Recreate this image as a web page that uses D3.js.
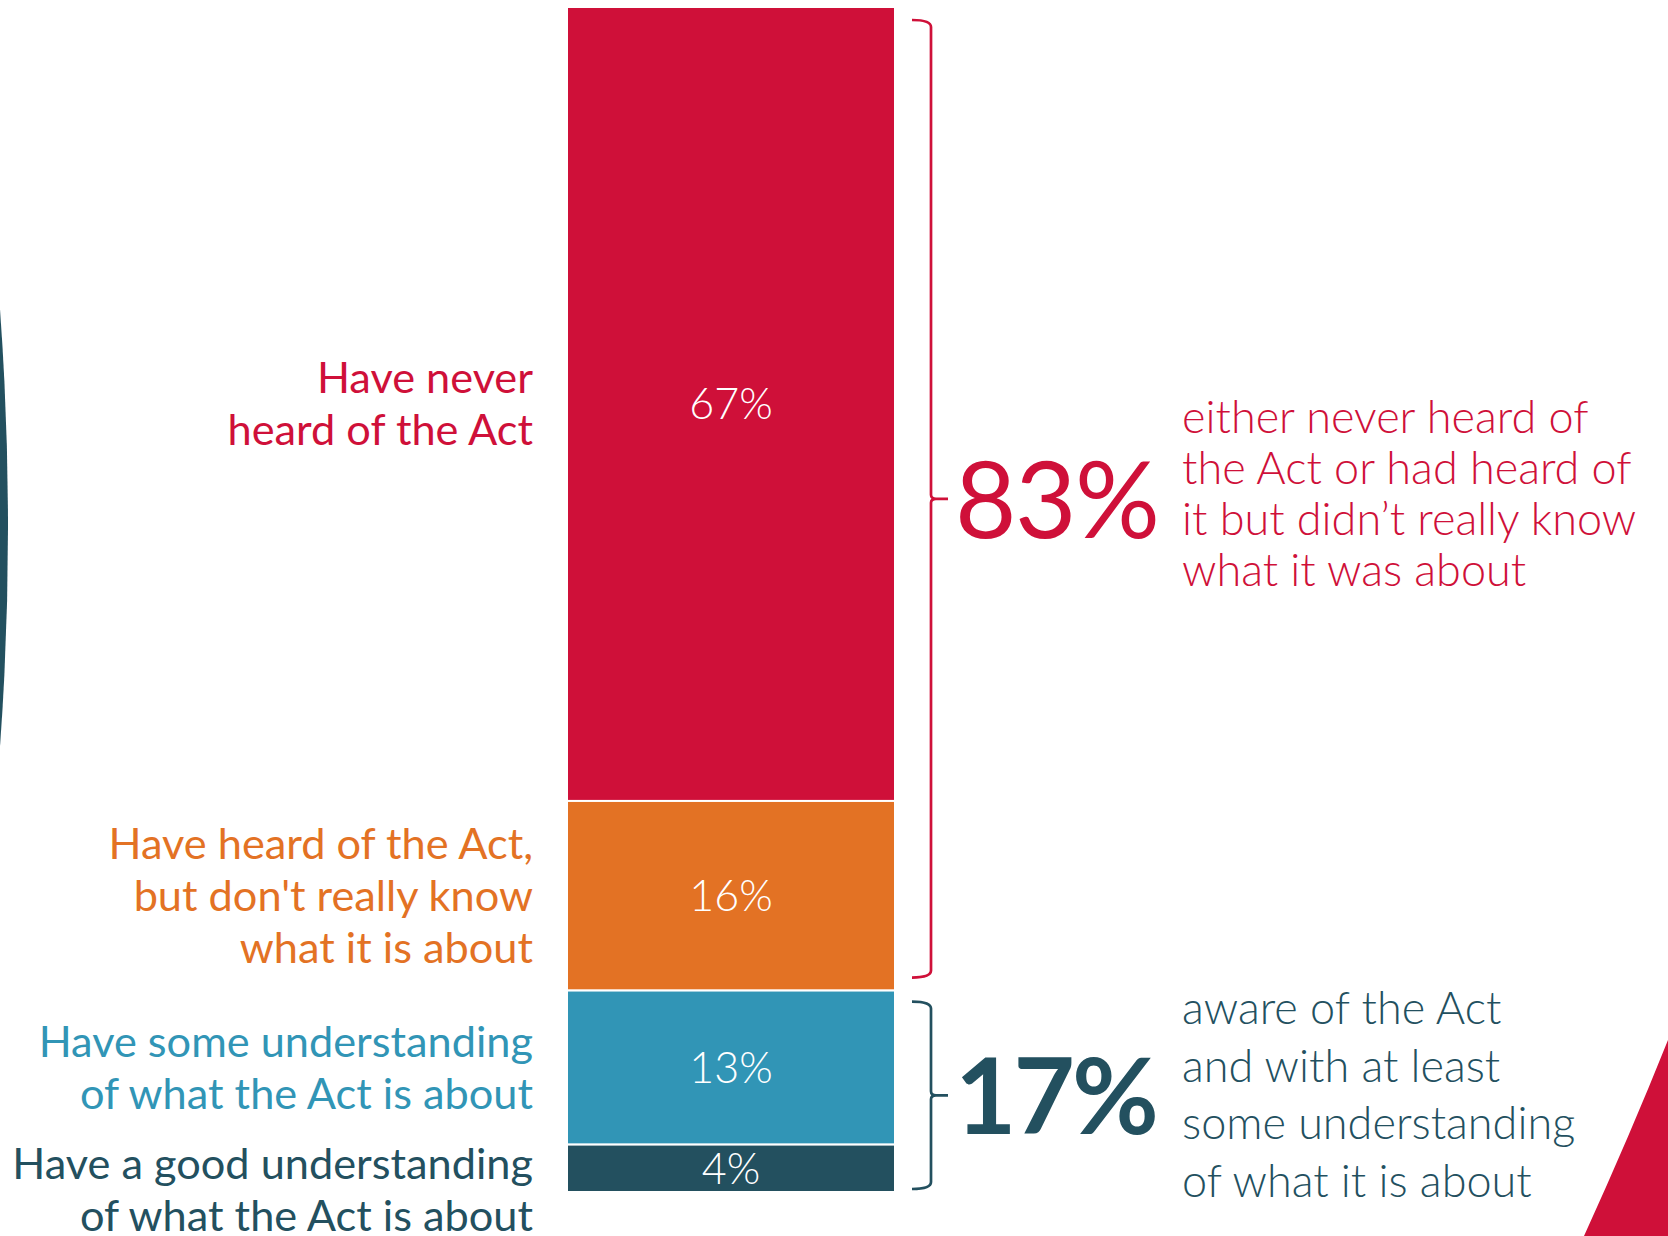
<!DOCTYPE html>
<html>
<head>
<meta charset="utf-8">
<script src="https://cdn.jsdelivr.net/npm/d3@7"></script>
<style>
  html, body { margin: 0; padding: 0; background: #fff; }
  svg { display: block; font-family: Lato, "Open Sans", sans-serif; }
</style>
</head>
<body>
<div id="d3-container"></div>
<script>
/**
 * DATA
 * */
const categories = [
  "Have never heard of the Act",
  "Have heard of the Act, but don't really know what it is about",
  "Have some understanding of what the Act is about",
  "Have a good understanding of what the Act is about"
];
// how each category label breaks over lines
const categoryLines = [
  ["Have never", "heard of the Act"],
  ["Have heard of the Act,", "but don't really know", "what it is about"],
  ["Have some understanding", "of what the Act is about"],
  ["Have a good understanding", "of what the Act is about"]
];
const values = [67, 16, 13, 4];

// the two brackets on the right: which categories they take in
const groupMembers = [[0, 1], [2, 3]];
const groupLines = [
  ["either never heard of", "the Act or had heard of", "it but didn\u2019t really know", "what it was about"],
  ["aware of the Act", "and with at least", "some understanding", "of what it is about"]
];

/**
 * CONSTANTS AND GLOBALS
 * */
const width = 1668,
  height = 1236,
  bar = { x0: 567, x1: 895, top: 7, bottom: 1192 };

const colors = ["#cf1039", "#e37224", "#3195b6", "#23505f"];
const groupColors = ["#cf1039", "#23505f"];
const groupWeights = [400, 700];
const groupLeading = [51, 57.5];
const groupShift = [11, 15];
const braceInset = [[13, 13], [11, 3]];

const svg = d3.select("#d3-container")
  .append("svg")
  .attr("width", width)
  .attr("height", height);

// background decoration: edge of a big dark circle on the left, red wedge bottom right
svg.append("circle")
  .attr("cx", -2980)
  .attr("cy", 528)
  .attr("r", 2988)
  .attr("fill", "#23505f");

svg.append("path")
  .attr("d", "M1668,1040 Q1630,1135 1584,1236 L1668,1236 Z")
  .attr("fill", "#cf1039");

/**
 * SCALES AND STACK
 * */
const y = d3.scaleLinear([0, d3.sum(values)], [bar.top, bar.bottom]);

let acc = 0;
const stacked = values.map((v, i) => {
  const d = { i, value: v, label: categories[i], start: acc, end: acc + v };
  acc += v;
  return d;
});

// bars
svg.selectAll("rect.seg")
  .data(stacked)
  .join("rect")
  .attr("class", "seg")
  .attr("x", bar.x0)
  .attr("width", bar.x1 - bar.x0)
  .attr("y", d => y(d.start))
  .attr("height", d => y(d.end) - y(d.start))
  .attr("fill", d => colors[d.i])
  .attr("stroke", "#fff")
  .attr("stroke-width", 2);

// value labels inside the bar
svg.selectAll("text.val")
  .data(stacked)
  .join("text")
  .attr("class", "val")
  .attr("x", (bar.x0 + bar.x1) / 2)
  .attr("y", d => (y(d.start) + y(d.end)) / 2)
  .attr("dy", "0.36em")
  .attr("text-anchor", "middle")
  .attr("fill", "#fff")
  .attr("font-size", 43)
  .attr("font-weight", 300)
  .text(d => d.value + "%");

// category labels on the left, centred on their segment, pushed down if they collide
const lineH = 52, capH = 30, minGap = 70;
let lastBaseline = -Infinity;
stacked.forEach(d => {
  const lines = categoryLines[d.i];
  const mid = (y(d.start) + y(d.end)) / 2;
  let first = mid - ((lines.length - 1) * lineH) / 2 + capH / 2;
  if (first < lastBaseline + minGap) first = lastBaseline + minGap;
  lastBaseline = first + (lines.length - 1) * lineH;

  svg.append("text")
    .attr("class", "cat")
    .attr("text-anchor", "end")
    .attr("fill", colors[d.i])
    .attr("font-size", 43.3)
    .selectAll("tspan")
    .data(lines)
    .join("tspan")
    .attr("x", 533)
    .attr("y", (l, j) => first + j * lineH)
    .text(l => l);
});

// brackets with the group totals
const groups = groupMembers.map((m, g) => {
  const start = stacked[m[0]].start;
  const end = stacked[m[m.length - 1]].end;
  return { g, total: d3.sum(m, i => values[i]), top: y(start) + braceInset[g][0], bot: y(end) - braceInset[g][1] };
});

const bx = 931, hookX = 912, tipX = 948;
svg.selectAll("path.brace")
  .data(groups)
  .join("path")
  .attr("class", "brace")
  .attr("fill", "none")
  .attr("stroke", d => groupColors[d.g])
  .attr("stroke-width", 2.7)
  .attr("d", d => {
    const mid = (d.top + d.bot) / 2;
    return `M${hookX},${d.top} Q${bx},${d.top} ${bx},${d.top + 7}` +
      ` L${bx},${mid - 4} Q${bx},${mid} ${bx + 5},${mid} L${tipX},${mid}` +
      ` M${bx + 5},${mid} Q${bx},${mid} ${bx},${mid + 4}` +
      ` L${bx},${d.bot - 7} Q${bx},${d.bot} ${hookX},${d.bot}`;
  });

svg.selectAll("text.total")
  .data(groups)
  .join("text")
  .attr("class", "total")
  .attr("x", 955)
  .attr("y", d => (d.top + d.bot) / 2)
  .attr("dy", "0.37em")
  .attr("fill", d => groupColors[d.g])
  .attr("font-size", 106)
  .attr("letter-spacing", d => d.g ? -3 : -1.5)
  .attr("font-weight", d => groupWeights[d.g])
  .text(d => d.total + "%");

groups.forEach(d => {
  const lines = groupLines[d.g];
  const lh = groupLeading[d.g];
  const mid = (d.top + d.bot) / 2;
  const first = mid - ((lines.length - 1) * lh) / 2 + groupShift[d.g];
  svg.append("text")
    .attr("class", "desc")
    .attr("fill", groupColors[d.g])
    .attr("font-size", 45)
    .attr("font-weight", 300)
    .selectAll("tspan")
    .data(lines)
    .join("tspan")
    .attr("x", 1182)
    .attr("y", (l, j) => first + j * lh)
    .text(l => l);
});
</script>
</body>
</html>
